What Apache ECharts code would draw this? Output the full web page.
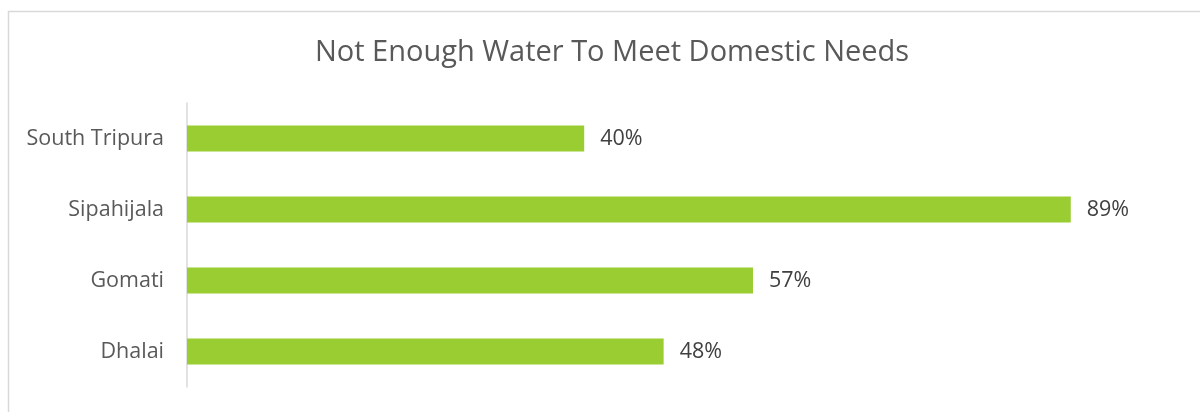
<!DOCTYPE html>
<html>
<head>
<meta charset="utf-8">
<script src="https://cdn.jsdelivr.net/npm/echarts@6/dist/echarts.min.js"></script>
<style>
html,body{margin:0;padding:0;background:#fff;}
#c{width:1200px;height:412px;}
</style>
</head>
<body>
<div id="c"></div>
<script>
const titleText = "Not Enough Water To Meet Domestic Needs";
const categories = ["Dhalai", "Gomati", "Sipahijala", "South Tripura"];
const values = [0.48, 0.57, 0.89, 0.40];

const chart = echarts.init(document.getElementById('c'), null, {renderer: 'canvas'});
const font = "'Open Sans', 'Noto Sans', sans-serif";
chart.setOption({
  backgroundColor: '#ffffff',
  animation: false,
  graphic: [{
    type: 'polyline',
    shape: {points: [[8.5, 420], [8.5, 11.5], [1210, 11.5]]},
    style: {stroke: '#d9d9d9', lineWidth: 1.5, fill: null},
    silent: true
  }],
  title: {
    text: titleText,
    left: 607,
    top: 33,
    textAlign: 'center',
    textStyle: {fontFamily: font, fontSize: 29, fontWeight: 'normal', color: '#595959'}
  },
  grid: {left: 187, right: 20, top: 103, bottom: 25, containLabel: false},
  xAxis: {
    type: 'value',
    min: 0,
    max: 1,
    show: false
  },
  yAxis: {
    type: 'category',
    data: categories,
    axisLine: {show: true, lineStyle: {color: '#d9d9d9', width: 1.5}},
    axisTick: {show: false},
    axisLabel: {fontFamily: font, fontSize: 21.5, color: '#595959', margin: 23}
  },
  series: [{
    type: 'bar',
    data: values,
    barWidth: 26,
    itemStyle: {color: '#9acd32'},
    label: {
      show: true,
      position: 'right',
      distance: 16,
      fontFamily: font,
      fontSize: 21.5,
      color: '#404040',
      formatter: p => Math.round(p.value * 100) + '%'
    }
  }]
});
</script>
</body>
</html>
